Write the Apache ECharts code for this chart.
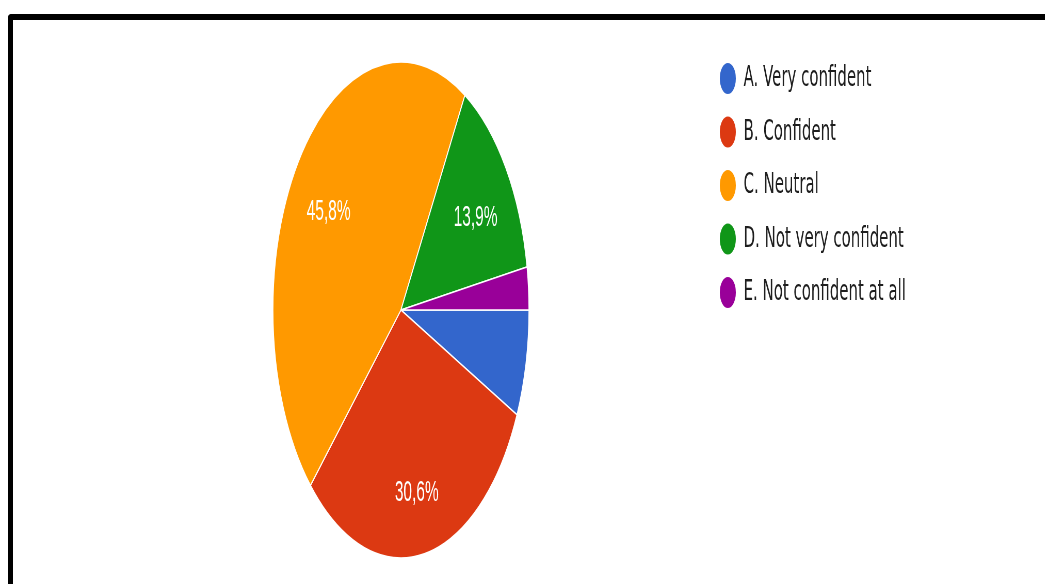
<!DOCTYPE html>
<html>
<head>
<meta charset="utf-8">
<script src="https://cdn.jsdelivr.net/npm/echarts@6/dist/echarts.min.js"></script>
<style>
  html, body { margin: 0; padding: 0; background: #fff; width: 1045px; height: 584px; overflow: hidden; }
  #frame {
    position: absolute; left: 8px; top: 14px; width: 1100px; height: 620px;
    border-top: 6px solid #000; border-left: 5px solid #000; border-top-left-radius: 4px;
    box-sizing: border-box;
  }
  /* the chart is drawn wide and then narrowed horizontally */
  #chart {
    position: absolute; left: 0; top: 0; width: 2025px; height: 584px;
    transform: scaleX(0.516); transform-origin: 0 0;
  }
</style>
</head>
<body>
<div id="frame"></div>
<div id="chart"></div>
<script>
  // Survey answers (72 responses)
  const categories = ['A. Very confident', 'B. Confident', 'C. Neutral', 'D. Not very confident', 'E. Not confident at all'];
  const counts = [5, 22, 33, 10, 2];
  const colors = ['#3366CC', '#DC3912', '#FF9900', '#109618', '#990099'];

  const pieData = categories.map((name, i) => ({ name: name, value: counts[i] }));

  const chart = echarts.init(document.getElementById('chart'), null, { renderer: 'canvas' });

  const center = [777, 310];
  const outer = 248;

  chart.setOption({
    animation: false,
    color: colors,
    legend: {
      orient: 'vertical',
      left: 1388,
      top: 56,
      itemWidth: 33,
      itemHeight: 33,
      itemGap: 18.5,
      icon: 'circle',
      data: categories,
      selectedMode: false,
      textStyle: {
        fontFamily: 'DejaVu Sans',
        fontSize: 29,
        lineHeight: 33,
        color: '#1e1e1e',
        padding: [0, 0, 0, 9]
      }
    },
    series: [
      {
        name: 'answers',
        type: 'pie',
        center: center,
        radius: [0, outer],
        startAngle: 0,
        clockwise: true,
        avoidLabelOverlap: false,
        label: { show: false },
        labelLine: { show: false },
        emphasis: { disabled: true },
        itemStyle: { borderColor: '#ffffff', borderWidth: 1.6 },
        data: pieData
      },
      {
        // percentage labels, placed in a ring at ~70% of the radius,
        // the leading empty line drops each label half a line lower
        name: 'labels',
        type: 'pie',
        center: center,
        radius: [outer * 0.40, outer],
        startAngle: 0,
        clockwise: true,
        silent: true,
        avoidLabelOverlap: false,
        itemStyle: { color: 'rgba(0,0,0,0)', borderWidth: 0 },
        emphasis: { disabled: true },
        labelLine: { show: false },
        label: {
          show: true,
          position: 'inside',
          color: '#ffffff',
          fontFamily: 'Liberation Sans',
          fontSize: 30,
          lineHeight: 18,
          formatter: function (p) {
            if (p.percent < 10) return '';
            return '\n' + p.percent.toFixed(1).replace('.', ',') + '%';
          }
        },
        data: pieData
      }
    ]
  });
</script>
</body>
</html>
